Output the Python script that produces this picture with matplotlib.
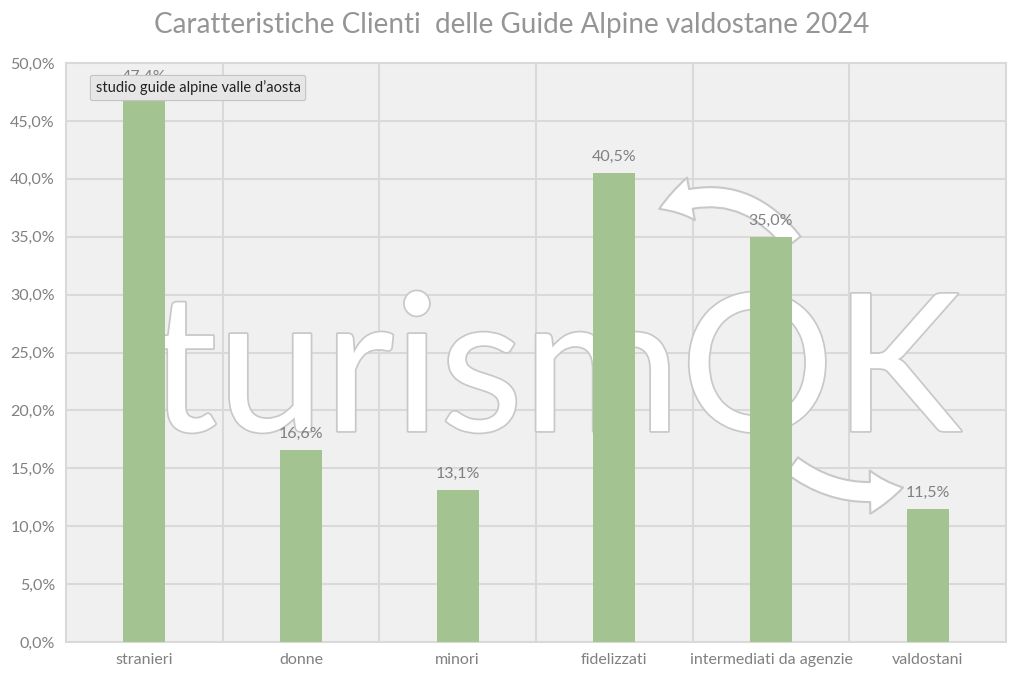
import matplotlib
matplotlib.use("Agg")
from matplotlib import pyplot as plt
from matplotlib import patheffects as pe
from matplotlib.patches import FancyArrowPatch
from matplotlib.ticker import FuncFormatter, MultipleLocator

categories = ["stranieri", "donne", "minori", "fidelizzati", "intermediati da agenzie", "valdostani"]
values = [47.4, 16.6, 13.1, 40.5, 35.0, 11.5]
title = "Caratteristiche Clienti  delle Guide Alpine valdostane 2024"
tooltip = "studio guide alpine valle d\u2019aosta"
watermark = "turismOK"

plt.rcParams["font.family"] = ["Lato", "DejaVu Sans"]

GRAY = "#808080"
GRID = "#d9d9d9"


def pct(x, pos=None):
    return f"{x:.1f}%".replace(".", ",")


fig = plt.figure(figsize=(10.24, 6.83), dpi=100)
ax = fig.add_axes([66 / 1024, 41 / 683, 940 / 1024, 579 / 683])
ax.set_facecolor("#f0f0f0")

x = list(range(len(categories)))
ax.set_xlim(-0.5, len(categories) - 0.5)
ax.set_ylim(0, 50)

# grid: vertical at category boundaries, horizontal every 5%
for b in [i + 0.5 for i in x[:-1]]:
    ax.axvline(b, color=GRID, lw=1.5, zorder=1)
ax.yaxis.set_major_locator(MultipleLocator(5))
ax.grid(axis="y", color=GRID, lw=1.5, zorder=1)
ax.set_axisbelow(True)

# watermark
ax.text(2.62, 22.9, watermark, ha="center", va="center", fontsize=138,
        color="white", fontweight="normal", zorder=2,
        path_effects=[pe.withStroke(linewidth=2.5, foreground="#c8c8c8")])
astyle = "simple,head_width=2.6,head_length=2.0,tail_width=1.2"
arr1 = FancyArrowPatch((4.15, 34.3), (3.27, 37.3), connectionstyle="arc3,rad=0.4",
                       arrowstyle=astyle, mutation_scale=12,
                       fc="white", ec="#c8c8c8", lw=1.5, zorder=2)
arr2 = FancyArrowPatch((4.12, 15.4), (4.86, 13.4), connectionstyle="arc3,rad=0.25",
                       arrowstyle=astyle, mutation_scale=12,
                       fc="white", ec="#c8c8c8", lw=1.5, zorder=2)
ax.add_patch(arr1)
ax.add_patch(arr2)

bars = ax.bar(x, values, width=0.27, color="#a3c490", zorder=3)
for xi, v in zip(x, values):
    ax.text(xi, v + 0.8, pct(v), ha="center", va="bottom", fontsize=11.5,
            color=GRAY, zorder=4)

ax.set_xticks(x)
ax.set_xticklabels(categories)
ax.yaxis.set_major_formatter(FuncFormatter(pct))
ax.tick_params(length=0, labelsize=11.5, labelcolor=GRAY, pad=8)
for s in ax.spines.values():
    s.set_color(GRID)
    s.set_linewidth(1.5)

fig.text(0.5, 0.963, title, ha="center", va="center", fontsize=20,
         color="#959595")

# tooltip box
fig.text(198 / 1024, 1 - 88 / 683, tooltip, ha="center", va="center", fontsize=10.5,
         color="#222222", zorder=10,
         bbox=dict(boxstyle="round,pad=0.35,rounding_size=0.15", fc="#e6e6e6", ec="#c4c4c4", lw=0.8))

fig.savefig("out.png", dpi=100)
